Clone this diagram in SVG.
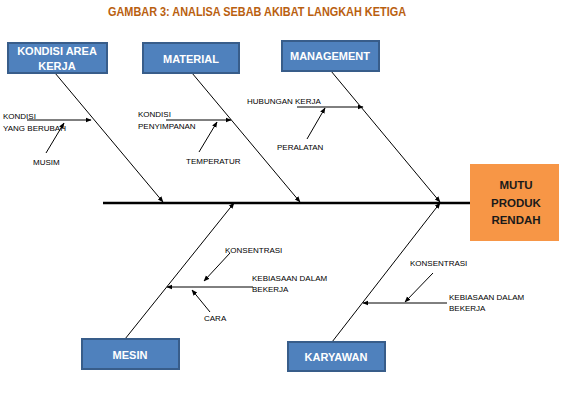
<svg xmlns="http://www.w3.org/2000/svg" width="565" height="401" viewBox="0 0 565 401">
<style>
.box{fill:#4F81BD;stroke:#385D8A;stroke-width:2}
.bt{font-family:"Liberation Sans",Arial,sans-serif;font-size:11px;font-weight:bold;fill:#fff;text-anchor:middle;dominant-baseline:central}
.lb{font-family:"Liberation Sans",Arial,sans-serif;font-size:8px;fill:#000;dominant-baseline:central}
.ln{stroke:#000;stroke-width:1;fill:none;marker-end:url(#ah)}
</style>
<defs>
<marker id="ah" viewBox="0 0 10 10" refX="9" refY="5" markerWidth="6" markerHeight="6" orient="auto" markerUnits="userSpaceOnUse">
<path d="M0,1 L10,5 L0,9 z" fill="#000"/>
</marker>
</defs>
<text x="257" y="12" font-family="'Liberation Sans',Arial,sans-serif" font-size="12.5" font-weight="bold" fill="#B9600F" text-anchor="middle" dominant-baseline="central" textLength="298" lengthAdjust="spacingAndGlyphs">GAMBAR 3:  ANALISA SEBAB AKIBAT LANGKAH KETIGA</text>
<g id="connectors">
<line x1="103" y1="203" x2="471" y2="203" stroke="#000" stroke-width="2.5"/>
<line class="ln" x1="55" y1="73" x2="163" y2="202"/>
<line class="ln" x1="192" y1="73" x2="300" y2="202"/>
<line class="ln" x1="331" y1="71" x2="440" y2="202"/>
<line class="ln" x1="125" y1="339" x2="234" y2="203"/>
<line class="ln" x1="332" y1="342" x2="440" y2="203"/>
<line class="ln" x1="27" y1="120" x2="91" y2="120"/>
<line class="ln" x1="46" y1="153" x2="64" y2="123"/>
<line class="ln" x1="166" y1="120" x2="231" y2="120"/>
<line class="ln" x1="199" y1="152" x2="217" y2="122"/>
<line class="ln" x1="297" y1="107" x2="363" y2="107"/>
<line class="ln" x1="307" y1="139" x2="325" y2="108"/>
<line class="ln" x1="253" y1="287" x2="167" y2="287"/>
<line class="ln" x1="230" y1="253" x2="204" y2="281"/>
<line class="ln" x1="210" y1="312" x2="192" y2="290"/>
<line class="ln" x1="447" y1="303" x2="363" y2="303"/>
<line class="ln" x1="433" y1="273" x2="405" y2="302"/>
</g>
<g id="kondisi-area-kerja">
<rect class="box" x="8" y="43" width="99" height="30"/>
<text class="bt" x="57" y="51">KONDISI AREA</text>
<text class="bt" x="57" y="66">KERJA</text>
</g>
<g id="material">
<rect class="box" x="143" y="43" width="96" height="30"/>
<text class="bt" x="191" y="59">MATERIAL</text>
</g>
<g id="management">
<rect class="box" x="282" y="41" width="97" height="30"/>
<text class="bt" x="330" y="56">MANAGEMENT</text>
</g>
<g id="mesin">
<rect class="box" x="82" y="339" width="97" height="30"/>
<text class="bt" x="130" y="355">MESIN</text>
</g>
<g id="karyawan">
<rect class="box" x="288" y="342" width="97" height="29"/>
<text class="bt" x="336" y="357">KARYAWAN</text>
</g>
<g id="mutu-produk-rendah">
<rect x="470" y="164" width="89" height="77" fill="#F79646"/>
<text x="516" y="185" font-family="'Liberation Sans',Arial,sans-serif" font-size="11.5" font-weight="bold" fill="#1a1a1a" text-anchor="middle" dominant-baseline="central">MUTU</text>
<text x="516" y="203" font-family="'Liberation Sans',Arial,sans-serif" font-size="11.5" font-weight="bold" fill="#1a1a1a" text-anchor="middle" dominant-baseline="central">PRODUK</text>
<text x="516" y="220" font-family="'Liberation Sans',Arial,sans-serif" font-size="11.5" font-weight="bold" fill="#1a1a1a" text-anchor="middle" dominant-baseline="central">RENDAH</text>
</g>
<g id="labels">
<text class="lb" x="3" y="116">KONDISI</text>
<text class="lb" x="3" y="128">YANG BERUBAH</text>
<text class="lb" x="33" y="162">MUSIM</text>
<text class="lb" x="138" y="114">KONDISI</text>
<text class="lb" x="138" y="126">PENYIMPANAN</text>
<text class="lb" x="186" y="161">TEMPERATUR</text>
<text class="lb" x="247" y="101">HUBUNGAN  KERJA</text>
<text class="lb" x="277" y="147">PERALATAN</text>
<text class="lb" x="225" y="250">KONSENTRASI</text>
<text class="lb" x="252" y="278">KEBIASAAN DALAM</text>
<text class="lb" x="252" y="289">BEKERJA</text>
<text class="lb" x="204" y="318">CARA</text>
<text class="lb" x="410" y="263">KONSENTRASI</text>
<text class="lb" x="449" y="297">KEBIASAAN DALAM</text>
<text class="lb" x="449" y="308">BEKERJA</text>
</g>
</svg>
